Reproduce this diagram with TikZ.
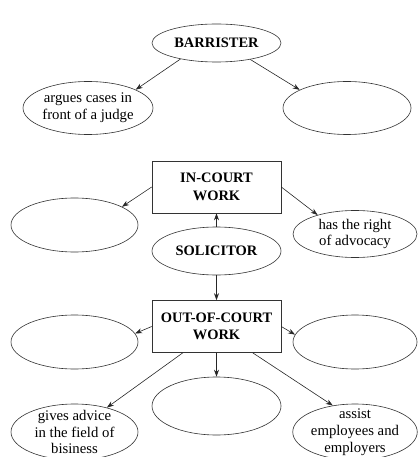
\documentclass[tikz,border=0pt]{standalone}
\usepackage{fontspec}
\setmainfont{Liberation Serif}
\usetikzlibrary{shapes.geometric,arrows.meta}
\begin{document}
\begin{tikzpicture}[x=1bp,y=-1bp,
    oval/.style={ellipse,draw=black!80,line width=0.6bp,inner xsep=0pt,inner ysep=-6bp,
        minimum width=128bp,minimum height=52bp,align=center,font=\fontsize{14.8}{17}\selectfont},
    box/.style={draw=black!80,line width=0.6bp,minimum width=129bp,minimum height=52bp,
        align=center,font=\bfseries\fontsize{14.5}{17.5}\selectfont},
    bold/.style={font=\bfseries\fontsize{14.5}{17.5}\selectfont},
    arr/.style={-{Stealth[length=7bp,width=5bp]},line width=0.6bp,black!85}]
    \useasboundingbox (0,0) rectangle (417,457);
    % barrister
    \node[oval,bold,minimum width=129bp,minimum height=38bp] (bar) at (216.5,43) {BARRISTER};
    \node[oval,minimum width=130bp,minimum height=53bp] (argues) at (88,108) {argues cases in\\front of a judge};
    \node[oval,minimum width=128bp,minimum height=53bp] (bar2) at (347,108) {};
    \draw[arr] (bar.204) -- (argues.21);
    \draw[arr] (bar.334) -- (bar2.159);
    % solicitor
    \node[box] (in) at (216.5,187) {IN-COURT\\WORK};
    \node[oval,bold,minimum width=129bp,minimum height=48bp] (sol) at (216.5,251) {SOLICITOR};
    \node[box] (out) at (216.5,326.5) {OUT-OF-COURT\\WORK};
    \draw[arr] (sol) -- (in);
    \draw[arr] (sol) -- (out);
    % in-court work
    \node[oval,minimum width=127bp,minimum height=54bp] (in1) at (74.5,225) {};
    \node[oval,minimum width=124bp,minimum height=47bp] (advocacy) at (355,234) {has the right\\of advocacy};
    \draw[arr] (in.west) -- (in1.21);
    \draw[arr] (in.east) -- (advocacy.153);
    % out-of-court work
    \node[oval,minimum width=127bp,minimum height=54bp] (out1) at (74.5,342) {};
    \node[oval,minimum width=124bp,minimum height=54bp] (out2) at (355,342) {};
    \node[oval,minimum width=129bp,minimum height=58bp] (out3) at (216.5,406) {};
    \node[oval,minimum width=127bp,minimum height=56bp] (advice) at (74.5,432) {gives advice\\in the field of\\bisiness};
    \node[oval,minimum width=124bp,minimum height=56bp] (assist) at (355,432) {assist\\employees and\\employers};
    \draw[arr] (out.west) -- (out1.8);
    \draw[arr] (out.east) -- (out2.173);
    \draw[arr] (out) -- (out3);
    \draw[arr] (out.218) -- (advice.37);
    \draw[arr] (out.324) -- (assist.130);
\end{tikzpicture}
\end{document}
